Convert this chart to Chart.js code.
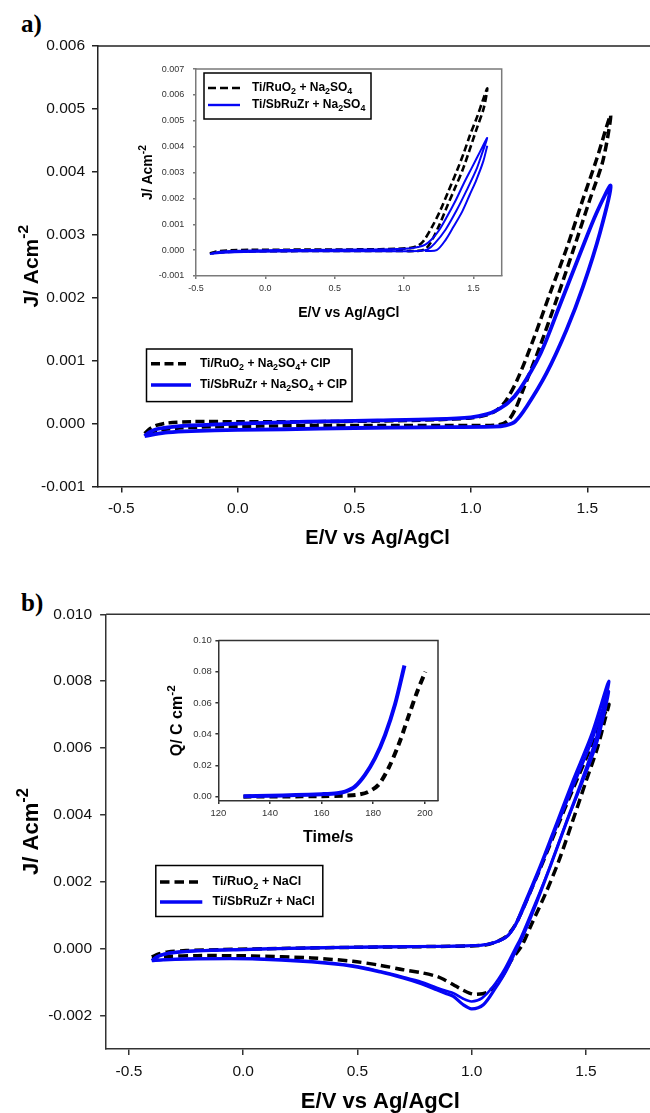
<!DOCTYPE html>
<html>
<head>
<meta charset="utf-8">
<script src="https://cdn.jsdelivr.net/npm/chart.js@4.4.1/dist/chart.umd.min.js"></script>
<style>
  html, body { margin: 0; padding: 0; width: 650px; height: 1113px; overflow: hidden; background: #fff; }
  .pane { position: absolute; }
  .tag { position: absolute; font: bold 25px/25px "Liberation Serif", "Times New Roman", serif; color: #000; }
</style>
</head>
<body>
<div class="tag" style="left:21px;top:11px">a)</div>
<div class="tag" style="left:21px;top:590px">b)</div>
<div class="pane" style="left:0;top:0"><canvas id="mainA" width="660" height="560"></canvas></div>
<div class="pane" style="left:130px;top:55px"><canvas id="insetA" width="385" height="270"></canvas></div>
<div class="pane" style="left:0;top:570px"><canvas id="mainB" width="660" height="543"></canvas></div>
<div class="pane" style="left:160px;top:630px"><canvas id="insetB" width="290" height="220"></canvas></div>
<script>
// ---- panel a: Na2SO4 + CIP (E in V vs Ag/AgCl, J in A cm-2), one CV loop each
const aRuO2_E = [-0.40, -0.38, -0.35, -0.30, -0.20, 0.00, 0.30, 0.60, 0.85, 1.00, 1.07, 1.11, 1.15, 1.20, 1.27, 1.34, 1.41, 1.48, 1.54, 1.60,
  1.568, 1.511, 1.44, 1.368, 1.297, 1.225, 1.19, 1.16, 1.12, 1.00, 0.70, 0.40, 0.10, -0.10, -0.25, -0.33, -0.37, -0.40];
const aRuO2_J = [-0.00016, -0.00009, -0.00003, 0.00001, 0.00003, 0.00003, 0.00003, 0.00004, 0.00006, 0.00009, 0.00014, 0.00021, 0.00036, 0.00070, 0.00135, 0.00207, 0.00277, 0.00355, 0.00420, 0.00490,
  0.00419, 0.00356, 0.00276, 0.00197, 0.00123, 0.00054, 0.00022, 0.00005, -0.00002, -0.00003, -0.00003, -0.00003, -0.00004, -0.00005, -0.00007, -0.00010, -0.00013, -0.00016];
const aSbRuZr_E = [-0.40, -0.38, -0.35, -0.30, -0.20, 0.00, 0.30, 0.60, 0.85, 1.00, 1.07, 1.11, 1.16, 1.21, 1.30, 1.38, 1.47, 1.54, 1.60,
  1.554, 1.482, 1.411, 1.325, 1.24, 1.19, 1.15, 1.10, 0.80, 0.50, 0.20, 0.00, -0.20, -0.30, -0.36, -0.40];
const aSbRuZr_J = [-0.00020, -0.00014, -0.00009, -0.00006, -0.00003, 0.00000, 0.00003, 0.00005, 0.00007, 0.00010, 0.00015, 0.00021, 0.00033, 0.00054, 0.00112, 0.00186, 0.00271, 0.00335, 0.00378,
  0.00303, 0.00218, 0.00149, 0.00080, 0.00027, 0.00003, -0.00003, -0.00005, -0.00006, -0.00007, -0.00009, -0.00010, -0.00012, -0.00014, -0.00017, -0.00020];

// ---- inset a: Na2SO4 only
const iaRuO2_E = [-0.40, -0.37, -0.33, -0.25, -0.10, 0.30, 0.70, 0.95, 1.05, 1.10, 1.14, 1.20, 1.26, 1.32, 1.38, 1.43, 1.475, 1.53, 1.571, 1.60,
  1.575, 1.524, 1.427, 1.367, 1.307, 1.25, 1.187, 1.15, 1.10, 0.90, 0.50, 0.10, -0.15, -0.30, -0.37, -0.40];
const iaRuO2_J = [-0.00013, -0.00008, -0.00004, -0.00001, 0.00001, 0.00002, 0.00003, 0.00005, 0.00009, 0.00017, 0.00035, 0.00088, 0.00152, 0.00228, 0.00305, 0.00375, 0.00444, 0.00520, 0.00584, 0.00625,
  0.00550, 0.00470, 0.00317, 0.00240, 0.00165, 0.00092, 0.00025, 0.00003, -0.00003, -0.00003, -0.00003, -0.00004, -0.00005, -0.00008, -0.00011, -0.00013];
const iaSbRuZr_E = [-0.40, -0.37, -0.33, -0.25, -0.10, 0.30, 0.70, 0.95, 1.05, 1.10, 1.15, 1.20, 1.25, 1.307, 1.37, 1.427, 1.49, 1.548, 1.60,
  1.56, 1.52, 1.45, 1.38, 1.30, 1.22, 1.17, 1.10, 0.90, 0.50, 0.10, -0.15, -0.30, -0.37, -0.40];
const iaSbRuZr_J = [-0.00015, -0.00010, -0.00006, -0.00003, -0.00001, 0.00001, 0.00002, 0.00004, 0.00007, 0.00012, 0.00020, 0.00042, 0.00075, 0.00127, 0.00190, 0.00254, 0.00320, 0.00381, 0.00434,
  0.00370, 0.00310, 0.00230, 0.00155, 0.00080, 0.00025, 0.00003, -0.00003, -0.00004, -0.00004, -0.00005, -0.00007, -0.00010, -0.00013, -0.00015];
const iaSbRuZr2_E = [1.15, 1.235, 1.30, 1.355, 1.42, 1.475, 1.52, 1.571, 1.60];
const iaSbRuZr2_J = [-0.00003, 0.00000, 0.00040, 0.00089, 0.00150, 0.00216, 0.00270, 0.00343, 0.00404];

// ---- panel b: NaCl
const bRuO2_E = [-0.40, -0.37, -0.33, -0.25, -0.10, 0.20, 0.50, 0.80, 1.00, 1.06, 1.10, 1.15, 1.19, 1.226, 1.30, 1.372, 1.445, 1.52, 1.60,
  1.585, 1.55, 1.50, 1.436, 1.38, 1.324, 1.26, 1.22, 1.175, 1.124, 1.07, 1.02, 0.99, 0.95, 0.92, 0.88, 0.847, 0.78, 0.70, 0.60, 0.48, 0.30, 0.04, -0.20, -0.33, -0.40];
const bRuO2_J = [-0.00025, -0.00016, -0.00010, -0.00006, -0.00003, 0.00001, 0.00004, 0.00006, 0.00008, 0.00011, 0.00018, 0.00036, 0.00070, 0.00122, 0.00240, 0.00360, 0.00480, 0.00600, 0.00730,
  0.00690, 0.00600, 0.00500, 0.00370, 0.00260, 0.00166, 0.00070, 0.00010, -0.00033, -0.00093, -0.00130, -0.00137, -0.00133, -0.00120, -0.00108, -0.00093, -0.00083, -0.00072, -0.00063, -0.00050, -0.00038, -0.00028, -0.00022, -0.00021, -0.00023, -0.00025];
const bSbRuZr_E = [-0.40, -0.38, -0.35, -0.30, -0.20, 0.00, 0.30, 0.60, 0.90, 1.04, 1.10, 1.153, 1.19, 1.226, 1.299, 1.372, 1.445, 1.525, 1.60,
  1.55, 1.481, 1.413, 1.343, 1.277, 1.223, 1.197, 1.153, 1.102, 1.051, 1.00, 0.963, 0.92, 0.89, 0.847, 0.78, 0.70, 0.60, 0.48, 0.30, 0.04, -0.20, -0.35, -0.40];
const bSbRuZr_J = [-0.00036, -0.00026, -0.00018, -0.00012, -0.00007, -0.00003, 0.00002, 0.00005, 0.00007, 0.00010, 0.00018, 0.00036, 0.00070, 0.00126, 0.00245, 0.00375, 0.00505, 0.00640, 0.00800,
  0.00640, 0.00500, 0.00375, 0.00245, 0.00126, 0.00036, 0.00000, -0.00063, -0.00120, -0.00168, -0.00180, -0.00168, -0.00143, -0.00135, -0.00123, -0.00105, -0.00088, -0.00070, -0.00053, -0.00040, -0.00031, -0.00031, -0.00034, -0.00036];
const bSbRuZr2_E = [-0.40, -0.38, -0.35, -0.30, -0.20, 0.00, 0.30, 0.60, 0.90, 1.04, 1.10, 1.155, 1.19, 1.23, 1.30, 1.375, 1.45, 1.525, 1.60,
  1.55, 1.48, 1.41, 1.34, 1.27, 1.215, 1.19, 1.145, 1.095, 1.045, 1.00, 0.963, 0.92, 0.89, 0.847, 0.78, 0.70, 0.60, 0.48, 0.30, 0.04, -0.20, -0.35, -0.40];
const bSbRuZr2_J = [-0.00035, -0.00024, -0.00016, -0.00010, -0.00006, -0.00002, 0.00002, 0.00005, 0.00007, 0.00010, 0.00018, 0.00036, 0.00068, 0.00124, 0.00240, 0.00370, 0.00495, 0.00620, 0.00770,
  0.00620, 0.00490, 0.00370, 0.00240, 0.00122, 0.00033, 0.00000, -0.00060, -0.00112, -0.00148, -0.00158, -0.00150, -0.00133, -0.00127, -0.00117, -0.00100, -0.00085, -0.00068, -0.00051, -0.00038, -0.00030, -0.00030, -0.00033, -0.00035];

// ---- inset b: charge vs time
const ibRuO2_t = [129.7, 145, 160, 170, 174, 178, 182, 186, 190, 194, 197, 200.2];
const ibRuO2_Q = [0.0000, 0.0001, 0.0003, 0.0007, 0.0012, 0.0030, 0.0075, 0.0185, 0.0340, 0.0530, 0.0670, 0.0800];
const ibSbRuZr_t = [129.7, 140, 150, 160, 166, 169.1, 172.9, 176.8, 180.7, 184.6, 188.4, 192.1];
const ibSbRuZr_Q = [0.0003, 0.0006, 0.0010, 0.0016, 0.0022, 0.0032, 0.0064, 0.0139, 0.0246, 0.0395, 0.0588, 0.0840];

// ---- tick values
const eTicks = [-0.5, 0.0, 0.5, 1.0, 1.5];
const aJTicks = [-0.001, 0.000, 0.001, 0.002, 0.003, 0.004, 0.005, 0.006];
const iaJTicks = [-0.001, 0.000, 0.001, 0.002, 0.003, 0.004, 0.005, 0.006, 0.007];
const bJTicks = [-0.002, 0.000, 0.002, 0.004, 0.006, 0.008, 0.010];
const ibTimeTicks = [120, 140, 160, 180, 200];
const ibQTicks = [0.00, 0.02, 0.04, 0.06, 0.08, 0.10];

const BLUE = '#0505f5';
const SANS = '"Liberation Sans", Arial, sans-serif';
Chart.defaults.font.family = SANS;

function pts(xs, ys) {
  return xs.map((x, i) => ({ x: x, y: ys[i] }));
}

function series(xs, ys, color, width, dash) {
  return {
    data: pts(xs, ys),
    borderColor: color,
    borderWidth: width,
    borderDash: dash || [],
    borderCapStyle: 'butt',
    borderJoinStyle: 'round',
    tension: 0.3,
    fill: false,
    pointRadius: 0
  };
}

// text with _{sub} and ^{sup} pieces
function parseRich(s) {
  const out = [];
  const re = /([_^])\{([^}]*)\}/g;
  let last = 0, m;
  while ((m = re.exec(s))) {
    if (m.index > last) out.push({ t: s.slice(last, m.index), k: 0 });
    out.push({ t: m[2], k: m[1] === '_' ? 1 : -1 });
    last = re.lastIndex;
  }
  if (last < s.length) out.push({ t: s.slice(last), k: 0 });
  return out;
}

function drawRich(ctx, s, x, y, size, align) {
  const parts = parseRich(s);
  const font = sz => 'bold ' + sz + 'px ' + SANS;
  let w = 0;
  parts.forEach(p => {
    p.sz = p.k ? size * 0.74 : size;
    ctx.font = font(p.sz);
    p.w = ctx.measureText(p.t).width;
    w += p.w;
  });
  let cx = align === 'center' ? x - w / 2 : x;
  ctx.textAlign = 'left';
  ctx.textBaseline = 'alphabetic';
  parts.forEach(p => {
    ctx.font = font(p.sz);
    const dy = p.k === 1 ? size * 0.3 : (p.k === -1 ? -size * 0.45 : 0);
    ctx.fillText(p.t, cx, y + dy);
    cx += p.w;
  });
}

function decor(o) {
  return {
    id: 'decor',
    afterDraw(chart) {
      const ctx = chart.ctx, a = chart.chartArea;
      ctx.save();
      ctx.setLineDash([]);
      ctx.strokeStyle = o.axisColor;
      ctx.lineWidth = o.axisWidth;
      ctx.beginPath();
      ctx.moveTo(a.left, a.top);
      ctx.lineTo(a.right, a.top);
      if (o.box) ctx.lineTo(a.right, a.bottom);
      ctx.stroke();

      ctx.fillStyle = '#000';
      drawRich(ctx, o.xTitle, (a.left + a.right) / 2, a.bottom + o.xTitleDy + o.xTitleSize * 0.36, o.xTitleSize, 'center');
      ctx.save();
      ctx.translate(a.left - o.yTitleDx, (a.top + a.bottom) / 2);
      ctx.rotate(-Math.PI / 2);
      drawRich(ctx, o.yTitle, 0, o.yTitleSize * 0.36, o.yTitleSize, 'center');
      ctx.restore();

      const L = o.legend;
      ctx.fillStyle = '#fff';
      ctx.fillRect(L.x, L.y, L.w, L.h);
      ctx.strokeStyle = '#000';
      ctx.lineWidth = 1.5;
      ctx.strokeRect(L.x, L.y, L.w, L.h);
      L.items.forEach(it => {
        ctx.strokeStyle = it.color;
        ctx.lineWidth = it.width;
        ctx.setLineDash(it.dash || []);
        ctx.beginPath();
        ctx.moveTo(it.x0, it.ly);
        ctx.lineTo(it.x1, it.ly);
        ctx.stroke();
        ctx.setLineDash([]);
        ctx.fillStyle = '#000';
        drawRich(ctx, it.text, L.tx, it.ly + L.size * 0.36 - 1.5, L.size, 'left');
      });
      ctx.restore();
    }
  };
}

function axis(a, horiz, o) {
  return {
    type: 'linear',
    min: a.min,
    max: a.max,
    afterBuildTicks: s => { s.ticks = a.ticks.map(v => ({ value: v })); },
    afterFit: s => { if (horiz) s.height = a.size; else s.width = a.size; },
    border: { display: true, color: o.axisColor, width: o.axisWidth },
    grid: { drawOnChartArea: false, drawTicks: true, tickLength: o.tickLen, color: o.axisColor, lineWidth: o.axisWidth },
    ticks: {
      padding: a.pad,
      color: o.tickColor,
      font: { size: o.tickSize },
      maxRotation: 0,
      autoSkip: false,
      callback: v => v.toFixed(a.dec)
    }
  };
}

function makeChart(id, o) {
  return new Chart(document.getElementById(id), {
    type: 'line',
    data: { datasets: o.datasets },
    options: {
      responsive: false,
      animation: false,
      events: [],
      layout: { padding: { top: o.padTop, right: o.padRight, left: 0, bottom: 0 } },
      plugins: { legend: { display: false }, tooltip: { enabled: false } },
      scales: { x: axis(o.x, true, o), y: axis(o.y, false, o) }
    },
    plugins: [decor(o)]
  });
}

makeChart('mainA', {
  datasets: [
    series(aSbRuZr_E, aSbRuZr_J, BLUE, 3.8),
    series(aRuO2_E, aRuO2_J, '#000', 3.5, [9, 4.5])
  ],
  padTop: 46, padRight: 2.8,
  x: { min: -0.6, max: 1.8, ticks: eTicks, size: 73.5, pad: 7, dec: 1 },
  y: { min: -0.001, max: 0.006, ticks: aJTicks, size: 98, pad: 7, dec: 3 },
  axisColor: '#222', axisWidth: 1.5, tickLen: 6, tickColor: '#111', tickSize: 15.5,
  xTitle: 'E/V vs Ag/AgCl', xTitleSize: 20, xTitleDy: 50.5,
  yTitle: 'J/ Acm^{-2}', yTitleSize: 21, yTitleDx: 68,
  legend: {
    x: 146.5, y: 349, w: 205.5, h: 52.6, tx: 200, size: 12,
    items: [
      { text: 'Ti/RuO_{2} + Na_{2}SO_{4}+ CIP', color: '#000', width: 3.5, dash: [9, 4.5], x0: 151, x1: 186, ly: 363.7 },
      { text: 'Ti/SbRuZr + Na_{2}SO_{4} + CIP', color: BLUE, width: 3.5, x0: 151, x1: 191, ly: 385 }
    ]
  }
});

makeChart('insetA', {
  datasets: [
    series(iaSbRuZr_E, iaSbRuZr_J, BLUE, 2),
    series(iaSbRuZr2_E, iaSbRuZr2_J, BLUE, 2),
    series(iaRuO2_E, iaRuO2_J, '#000', 2.6, [7, 3.5])
  ],
  box: true,
  padTop: 11, padRight: 13.3,
  x: { min: -0.5, max: 1.704, ticks: eTicks, size: 49, pad: 4.6, dec: 1 },
  y: { min: -0.001, max: 0.007, ticks: iaJTicks, size: 66, pad: 8.7, dec: 3 },
  axisColor: '#7a7a7a', axisWidth: 1.5, tickLen: 3, tickColor: '#333', tickSize: 9,
  xTitle: 'E/V vs Ag/AgCl', xTitleSize: 14, xTitleDy: 36,
  yTitle: 'J/ Acm^{-2}', yTitleSize: 14, yTitleDx: 49,
  legend: {
    x: 74, y: 18, w: 167, h: 46, tx: 122, size: 12,
    items: [
      { text: 'Ti/RuO_{2} + Na_{2}SO_{4}', color: '#000', width: 2.6, dash: [8, 4], x0: 78, x1: 110, ly: 33 },
      { text: 'Ti/SbRuZr + Na_{2}SO_{4}', color: BLUE, width: 2.4, x0: 78, x1: 110, ly: 50 }
    ]
  }
});

makeChart('mainB', {
  datasets: [
    series(bSbRuZr_E, bSbRuZr_J, BLUE, 3.2),
    series(bSbRuZr2_E, bSbRuZr2_J, BLUE, 2.6),
    series(bRuO2_E, bRuO2_J, '#000', 3.5, [9.5, 5])
  ],
  padTop: 44.3, padRight: 5.5,
  x: { min: -0.6, max: 1.8, ticks: eTicks, size: 64.1, pad: 7.5, dec: 1 },
  y: { min: -0.003, max: 0.010, ticks: bJTicks, size: 106.1, pad: 8, dec: 3 },
  axisColor: '#333', axisWidth: 1.5, tickLen: 6, tickColor: '#111', tickSize: 15.5,
  xTitle: 'E/V vs Ag/AgCl', xTitleSize: 22, xTitleDy: 51,
  yTitle: 'J/ Acm^{-2}', yTitleSize: 22, yTitleDx: 76.5,
  legend: {
    x: 155.8, y: 295.5, w: 167, h: 51, tx: 212.6, size: 12.5,
    items: [
      { text: 'Ti/RuO_{2} + NaCl', color: '#000', width: 3.5, dash: [9.5, 5], x0: 160, x1: 198, ly: 312 },
      { text: 'Ti/SbRuZr + NaCl', color: BLUE, width: 3.5, x0: 160, x1: 202.3, ly: 332 }
    ]
  }
});

makeChart('insetB', {
  datasets: [
    series(ibSbRuZr_t, ibSbRuZr_Q, BLUE, 4),
    series(ibRuO2_t, ibRuO2_Q, '#000', 4, [8, 5])
  ],
  box: true,
  padTop: 10.5, padRight: 12,
  x: { min: 120, max: 205.1, ticks: ibTimeTicks, size: 49, pad: 4, dec: 0 },
  y: { min: -0.0028, max: 0.10, ticks: ibQTicks, size: 58.4, pad: 3.7, dec: 2 },
  axisColor: '#333', axisWidth: 1.5, tickLen: 3, tickColor: '#333', tickSize: 9.5,
  xTitle: 'Time/s', xTitleSize: 16, xTitleDy: 35.6,
  yTitle: 'Q/ C cm^{-2}', yTitleSize: 16, yTitleDx: 42.4,
  legend: { x: 0, y: 0, w: 0, h: 0, tx: 0, size: 0, items: [] }
});
</script>
</body>
</html>
